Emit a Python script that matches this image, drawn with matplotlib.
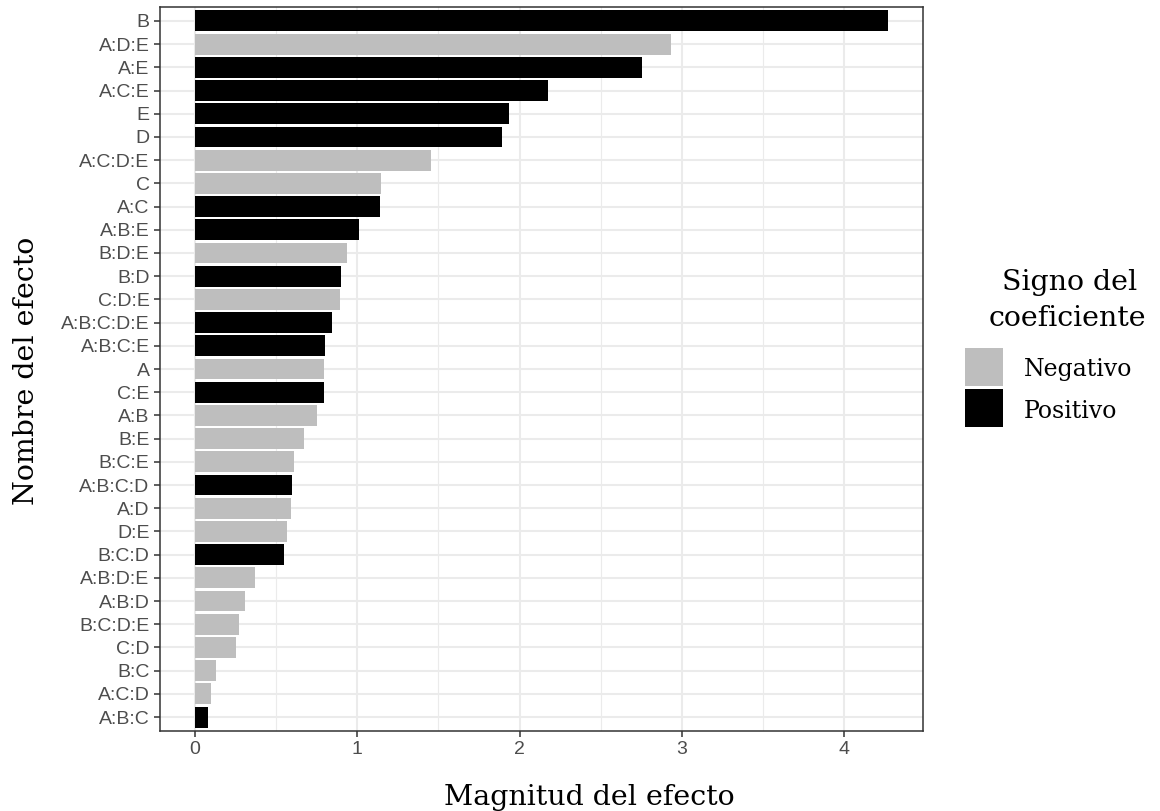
import matplotlib
matplotlib.use("Agg")
import matplotlib.pyplot as plt
from matplotlib.patches import Rectangle
from matplotlib.ticker import MultipleLocator

# Effects ordered from largest to smallest magnitude (top to bottom)
efectos = ["B", "A:D:E", "A:E", "A:C:E", "E", "D", "A:C:D:E", "C", "A:C", "A:B:E",
           "B:D:E", "B:D", "C:D:E", "A:B:C:D:E", "A:B:C:E", "A", "C:E", "A:B", "B:E",
           "B:C:E", "A:B:C:D", "A:D", "D:E", "B:C:D", "A:B:D:E", "A:B:D", "B:C:D:E",
           "C:D", "B:C", "A:C:D", "A:B:C"]
magnitudes = [4.27, 2.93, 2.755, 2.175, 1.935, 1.89, 1.455, 1.15, 1.14, 1.01,
              0.935, 0.90, 0.895, 0.845, 0.80, 0.795, 0.795, 0.75, 0.67,
              0.61, 0.60, 0.59, 0.57, 0.55, 0.37, 0.31, 0.27,
              0.255, 0.13, 0.10, 0.08]
signos = ["Positivo", "Negativo", "Positivo", "Positivo", "Positivo", "Positivo",
          "Negativo", "Negativo", "Positivo", "Positivo", "Negativo", "Positivo",
          "Negativo", "Positivo", "Positivo", "Negativo", "Positivo", "Negativo",
          "Negativo", "Negativo", "Positivo", "Negativo", "Negativo", "Positivo",
          "Negativo", "Negativo", "Negativo", "Negativo", "Negativo", "Negativo",
          "Positivo"]
niveles = ["Negativo", "Positivo"]
colores = {"Negativo": "#BEBEBE", "Positivo": "#000000"}

W, H = 1160, 811
fig = plt.figure(figsize=(W / 100, H / 100), dpi=100)
ax = fig.add_axes([160 / W, 1 - 731 / H, (923 - 160) / W, (731 - 7) / H])

n = len(efectos)
ypos = list(range(n, 0, -1))
ax.barh(ypos, magnitudes, height=0.9, color=[colores[s] for s in signos],
        linewidth=0, zorder=3)

xmax = max(magnitudes)
pad = 0.05 * xmax
ax.set_xlim(-pad, xmax + pad)
ax.set_ylim(0.4, n + 0.6)

ax.set_yticks(ypos)
ax.set_yticklabels(efectos)
ax.xaxis.set_major_locator(MultipleLocator(1))
ax.xaxis.set_minor_locator(MultipleLocator(0.5))

ax.set_facecolor("white")
ax.grid(which="major", color="#EBEBEB", linewidth=1.5, zorder=0)
ax.grid(which="minor", axis="x", color="#EBEBEB", linewidth=0.8, zorder=0)
ax.set_axisbelow(True)
for sp in ax.spines.values():
    sp.set_color("#333333")
    sp.set_linewidth(1.1)

ax.tick_params(axis="both", which="major", length=4, width=1.1, color="#333333",
               labelcolor="#4D4D4D", pad=3.5, labelsize=14)
ax.tick_params(axis="both", which="minor", length=0)
for lab in ax.get_xticklabels() + ax.get_yticklabels():
    lab.set_fontfamily("Liberation Sans")

serif = "DejaVu Serif"
fig.text(589 / W, 1 - 805 / H, "Magnitud del efecto", family=serif, size=20.5,
         ha="center", va="baseline")
fig.text(34 / W, 1 - 371 / H, "Nombre del efecto", family=serif, size=20.5,
         ha="center", va="baseline", rotation=90, rotation_mode="anchor")

# Legend drawn in figure coordinates
fig.text(1070 / W, 1 - 290 / H, "Signo del", family=serif, size=20.5,
         ha="center", va="baseline")
fig.text(1067 / W, 1 - 326 / H, "coeficiente", family=serif, size=20.5,
         ha="center", va="baseline")
key_tops = [348, 389]
baselines = [376, 418]
for nivel, top, base in zip(niveles, key_tops, baselines):
    fig.add_artist(Rectangle((965 / W, 1 - (top + 38) / H), 38 / W, 38 / H,
                             transform=fig.transFigure, facecolor=colores[nivel],
                             edgecolor="none"))
    fig.text(1024 / W, 1 - base / H, nivel, family=serif, size=17,
             ha="left", va="baseline")

fig.savefig("out.png", dpi=100)
